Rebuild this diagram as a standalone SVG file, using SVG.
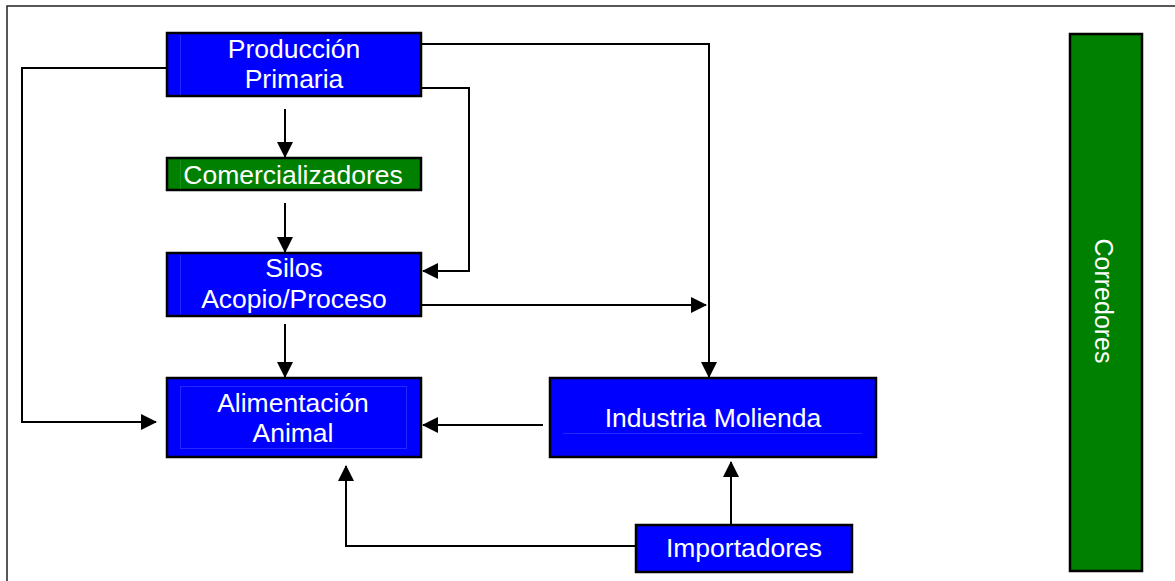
<svg xmlns="http://www.w3.org/2000/svg" width="1175" height="581" viewBox="0 0 1175 581">
  <style>
    .box { stroke: #000; stroke-width: 2.5; }
    .blue { fill: #0000ff; }
    .green { fill: #008000; }
    .lbl { font-family: "Liberation Sans", Arial, sans-serif; font-size: 26.5px; fill: #ffffff; text-anchor: middle; }
    .ghost { fill: none; stroke: #2626ff; stroke-width: 1; }
    .conn { fill: none; stroke: #000; stroke-width: 2; }
  </style>
  <defs>
    <marker id="arr" viewBox="0 0 16 16" refX="15" refY="8" markerWidth="16" markerHeight="16" markerUnits="userSpaceOnUse" orient="auto">
      <path d="M0,0 L16,8 L0,16 z" fill="#000"/>
    </marker>
  </defs>
  <rect x="0" y="0" width="1175" height="581" fill="#ffffff"/>
  <rect id="frame" x="7" y="6" width="1200" height="600" fill="none" stroke="#222" stroke-width="1.5"/>

  <g id="connectors">
    <path class="conn" d="M167,68 H22 V422 H156" marker-end="url(#arr)"/>
    <path class="conn" d="M285,109 V157" marker-end="url(#arr)"/>
    <path class="conn" d="M285,203 V252" marker-end="url(#arr)"/>
    <path class="conn" d="M421,88 H469 V271 H423" marker-end="url(#arr)"/>
    <path class="conn" d="M421,44 H709 V377" marker-end="url(#arr)"/>
    <path class="conn" d="M421,305 H706" marker-end="url(#arr)"/>
    <path class="conn" d="M285,324 V377" marker-end="url(#arr)"/>
    <path class="conn" d="M543,425 H423" marker-end="url(#arr)"/>
    <path class="conn" d="M731,525 V462" marker-end="url(#arr)"/>
    <path class="conn" d="M636,546 H346 V466" marker-end="url(#arr)"/>
  </g>

  <g id="produccion-primaria">
    <rect class="box blue" x="167" y="33" width="254" height="63"/>
    <line class="ghost" x1="180.5" y1="35" x2="180.5" y2="95"/>
    <text class="lbl" x="294" y="58">Producción</text>
    <text class="lbl" x="294" y="88">Primaria</text>
  </g>

  <g id="comercializadores">
    <rect class="box green" x="167" y="158" width="254" height="32"/>
    <line x1="180.5" y1="160" x2="180.5" y2="189" stroke="#1a8f1a" stroke-width="1"/>
    <text class="lbl" x="293" y="184">Comercializadores</text>
  </g>

  <g id="silos">
    <rect class="box blue" x="167" y="253" width="254" height="63"/>
    <line class="ghost" x1="180.5" y1="255" x2="180.5" y2="314"/>
    <text class="lbl" x="294" y="277">Silos</text>
    <text class="lbl" x="294" y="308">Acopio/Proceso</text>
  </g>

  <g id="alimentacion-animal">
    <rect class="box blue" x="167" y="378" width="254" height="79"/>
    <rect class="ghost" x="180.5" y="386.5" width="226" height="62"/>
    <text class="lbl" x="293" y="412">Alimentación</text>
    <text class="lbl" x="293" y="442">Animal</text>
  </g>

  <g id="industria-molienda">
    <rect class="box blue" x="550" y="378" width="326" height="79"/>
    <line class="ghost" x1="563" y1="433.5" x2="862" y2="433.5"/>
    <text class="lbl" x="713" y="427">Industria Molienda</text>
  </g>

  <g id="importadores">
    <rect class="box blue" x="636" y="525" width="216" height="47"/>
    <text class="lbl" x="744" y="557">Importadores</text>
  </g>

  <g id="corredores">
    <rect class="box green" x="1070" y="34" width="72" height="537"/>
    <text class="lbl" x="0" y="0" style="font-size:25px" transform="translate(1095,301) rotate(90)">Corredores</text>
  </g>
</svg>
